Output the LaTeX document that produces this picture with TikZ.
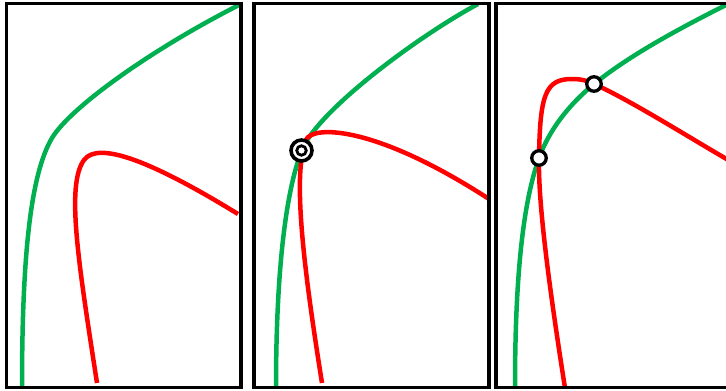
\documentclass[tikz,border=0pt]{standalone}
\definecolor{cgreen}{RGB}{0,176,80}
\definecolor{cred}{RGB}{255,0,0}
\begin{document}
\begin{tikzpicture}[x=1pt,y=-1pt,
  panel/.style={draw=black,line width=3.3pt},
  gcurve/.style={draw=cgreen,line width=4.5pt},
  rcurve/.style={draw=cred,line width=4.5pt},
  ptmark/.style={circle,draw=black,line width=3.3pt,fill=white,minimum size=14.5pt,inner sep=0pt},
  outermark/.style={circle,draw=black,line width=3.6pt,fill=white,minimum size=21pt,inner sep=0pt},
  innermark/.style={circle,draw=black,line width=2.8pt,fill=white,minimum size=9.5pt,inner sep=0pt}]
\useasboundingbox (0,0) rectangle (726,391);
\clip (0,0) rectangle (726,391);
% panel 1
\draw[gcurve] (22,388) .. controls (22,260) and (30,175) .. (52,138)
  .. controls (70,108) and (150,50) .. (241,4);
\draw[rcurve] (97,383) .. controls (78,260) and (66,185) .. (84,160)
  .. controls (98,141) and (150,160) .. (238,214);
% panel 2
\draw[gcurve] (276,388) .. controls (276,270) and (286,190) .. (302,150)
  .. controls (318,110) and (420,35) .. (478,4);
\draw[rcurve] (322,383) .. controls (304,270) and (292,175) .. (306,140)
  .. controls (312,125) and (375,125) .. (489,199);
% panel 3
\draw[gcurve] (515,388) .. controls (515,270) and (524,200) .. (539,158)
  .. controls (550,128) and (570,104) .. (594,84)
  .. controls (630,55) and (680,28) .. (730,3);
\draw[rcurve] (565,388) .. controls (548,280) and (538,200) .. (539,158)
  .. controls (540,95) and (545,79) .. (572,79)
  .. controls (582,79) and (588,81) .. (594,84)
  .. controls (630,100) and (690,138) .. (730,161);
% panels
\draw[panel] (6.7,3.3) rectangle (241,387.5);
\draw[panel] (254,3.3) rectangle (489,387.5);
\draw[panel] (496,3.3) rectangle (740,387.5);
% marks
\node[outermark] (dbl) at (301.5,150.5) {};
\node[innermark] (dblin) at (dbl.center) {};
\node[ptmark] (p1) at (539,158) {};
\node[ptmark] (p2) at (594,84) {};
\end{tikzpicture}
\end{document}
